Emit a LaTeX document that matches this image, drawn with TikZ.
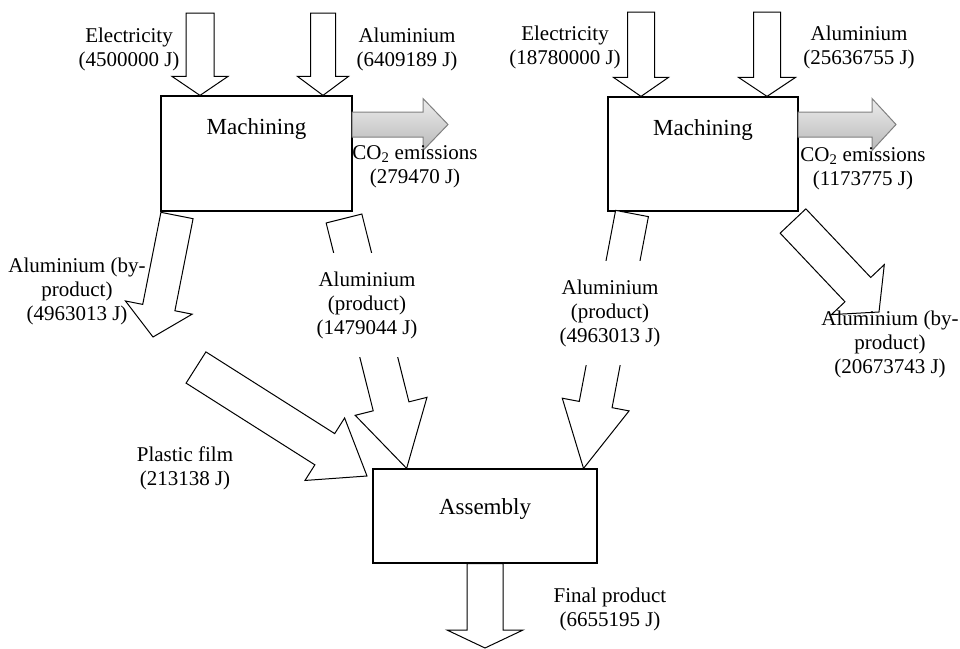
\documentclass[tikz,border=0pt]{standalone}
\usepackage{fontspec}
\setmainfont{Liberation Serif}
\usetikzlibrary{calc}
\usetikzlibrary{positioning}

% block arrow: [style]{tail}{tip}{half shaft}{half head}{head length}
\newcommand{\blockarrow}[6][blk]{%
  \path ($(#3)!#6!(#2)$) coordinate (ahb);
  \draw[#1] ($(#2)!#4!90:(#3)$) -- ($(ahb)!#4!90:(#3)$) -- ($(ahb)!#5!90:(#3)$)
    -- (#3) -- ($(ahb)!#5!-90:(#3)$) -- ($(ahb)!#4!-90:(#3)$)
    -- ($(#2)!#4!-90:(#3)$) -- cycle;}

\begin{document}
\begin{tikzpicture}[x=1pt, y=-1pt, line join=miter,
	every node/.style={font=\fontsize{21}{24}\selectfont},
	box/.style={draw, line width=1.2pt, inner sep=0pt},
	title/.style={inner sep=0pt, font=\fontsize{23}{26}\selectfont},
	blk/.style={draw, line width=1pt, fill=white},
	co2/.style={draw=gray, line width=1pt, top color=gray!15, bottom color=gray!55},
	lbl/.style={align=center, inner sep=0pt}]
\useasboundingbox (0,0) rectangle (960,648);
% processes
\node[box, minimum width=191pt, minimum height=115pt] (mach1) at (256.5, 153.5) {};
\node[box, minimum width=190pt, minimum height=114pt] (mach2) at (703, 154) {};
\node[box, minimum width=224pt, minimum height=94pt] (asm) at (485, 516) {};
\node[title, below=23pt of mach1.north] (t1) {Machining};
\node[title, below=23pt of mach2.north] (t2) {Machining};
\node[title, below=30pt of asm.north] (t3) {Assembly};
% inputs
\coordinate (e1) at (200, 13);
\coordinate (a1) at (323, 13);
\coordinate (e2) at (641, 12);
\coordinate (a2) at (767, 12);
\coordinate (e1t) at (e1 |- mach1.north);
\coordinate (a1t) at (a1 |- mach1.north);
\coordinate (e2t) at (e2 |- mach2.north);
\coordinate (a2t) at (a2 |- mach2.north);
\blockarrow{e1}{e1t}{14pt}{28pt}{19pt}
\blockarrow{a1}{a1t}{12.5pt}{25.5pt}{19pt}
\blockarrow{e2}{e2t}{13.5pt}{27.5pt}{19pt}
\blockarrow{a2}{a2t}{13.5pt}{28.5pt}{19pt}
% emissions
\coordinate (c1) at (352, 124.5);
\coordinate (c1t) at (448, 124.5);
\coordinate (c2) at (798, 124.5);
\coordinate (c2t) at (896, 124.5);
\blockarrow[co2]{c1}{c1t}{12.5pt}{26pt}{25pt}
\blockarrow[co2]{c2}{c2t}{12.5pt}{26pt}{24pt}
% outputs
\coordinate (bp1) at (177, 215.5);
\coordinate (bp1t) at (153, 337);
\coordinate (p1) at (344, 218.5);
\coordinate (p1t) at ($(asm.north west)!0.152!(asm.north east)$);
\coordinate (p2) at (632, 213.5);
\coordinate (p2t) at ($(asm.north west)!0.9375!(asm.north east)$);
\coordinate (bp2) at (793, 221);
\coordinate (bp2t) at (879, 312);
\coordinate (pf) at (196, 367.5);
\coordinate (pft) at (367, 476);
\coordinate (fp) at (485, 648);
\blockarrow{bp1}{bp1t}{16.4pt}{34pt}{30pt}
\blockarrow{p1}{p1t}{18.4pt}{37pt}{64pt}
\blockarrow{p2}{p2t}{16.7pt}{34pt}{65pt}
\blockarrow{bp2}{bp2t}{17.7pt}{36.4pt}{30.8pt}
\blockarrow{pf}{pft}{18.5pt}{37pt}{50pt}
\blockarrow{asm.south}{fp}{18pt}{38pt}{18pt}
% labels
\node[lbl] (le1) at (129, 49.5) {Electricity\\(4500000 J)};
\node[lbl] (la1) at (407, 49.5) {Aluminium\\(6409189 J)};
\node[lbl] (le2) at (565, 47) {Electricity\\(18780000 J)};
\node[lbl] (la2) at (859, 47) {Aluminium\\(25636755 J)};
\node[lbl] (lc1) at (415, 166.5) {CO\textsubscript{2} emissions\\(279470 J)};
\node[lbl] (lc2) at (863, 168.5) {CO\textsubscript{2} emissions\\(1173775 J)};
\node[lbl] (lb1) at (77, 291) {Aluminium (by-\\product)\\(4963013 J)};
\node[lbl, fill=white, inner xsep=3pt, minimum height=104pt] (lp1) at (367, 305) {Aluminium\\(product)\\(1479044 J)};
\node[lbl, fill=white, inner xsep=3pt, minimum height=104pt] (lp2) at (610, 313) {Aluminium\\(product)\\(4963013 J)};
\node[lbl] (lb2) at (890, 344.5) {Aluminium (by-\\product)\\(20673743 J)};
\node[lbl] (lpf) at (185, 468.5) {Plastic film\\(213138 J)};
\node[lbl] (lfp) at (610, 609.5) {Final product\\(6655195 J)};
\end{tikzpicture}
\end{document}
